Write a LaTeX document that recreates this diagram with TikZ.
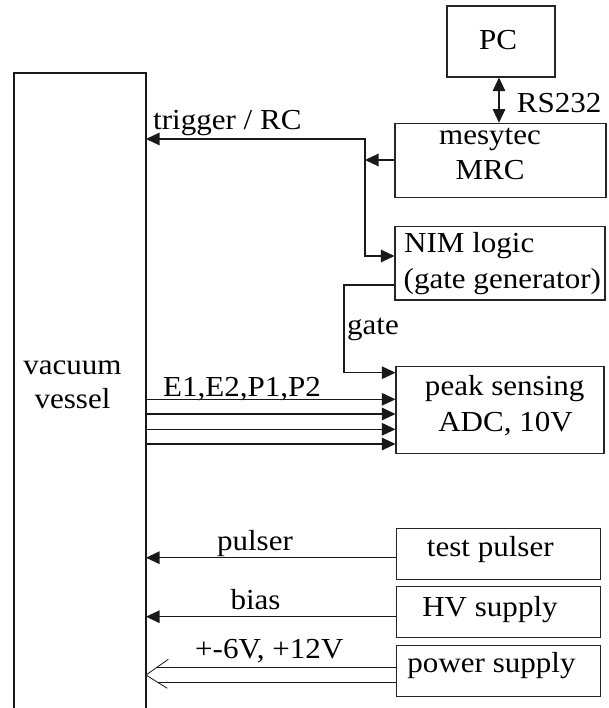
\documentclass[tikz,border=0pt]{standalone}
\usepackage{fontspec}
\setmainfont{Liberation Serif}
\usetikzlibrary{arrows.meta,calc}
\newcommand{\tx}[1]{\scalebox{1.07}[1]{#1}}
\begin{document}
\begin{tikzpicture}[x=1pt,y=-1pt,
  box/.style={draw=black!85, line width=1.1pt, inner sep=0pt, rectangle},
  lbl/.style={inner sep=0pt, font=\fontsize{29}{34}\selectfont},
  wire/.style={draw=black!90, line width=1.1pt},
  arr/.style={wire, -{Triangle[length=13.5pt,width=12.5pt]}},
  darr/.style={wire, {Triangle[length=13.5pt,width=12.5pt]}-{Triangle[length=13.5pt,width=12.5pt]}}]
\fill[white] (0,0) rectangle (608,708);
\useasboundingbox (0,0) rectangle (608,708);

% vacuum vessel (open at the bottom)
\draw[wire] (14,708) -- (14,73) -- (146,73) -- (146,708);
\coordinate (vR) at (146,73);
\node[lbl, anchor=base] (tvac) at (72.5,374) {\tx{vacuum}};
\node[lbl, anchor=base] (tves) at (72.5,408.3) {\tx{vessel}};

% boxes
\node[box, minimum width=108pt, minimum height=71pt] (pc) at (501,41.5) {};
\node[box, minimum width=211pt, minimum height=74.4pt] (mrc) at (500.5,160.5) {};
\node[box, minimum width=210pt, minimum height=73.3pt] (nim) at (500,263.3) {};
\node[box, minimum width=208pt, minimum height=87.3pt] (adc) at (500,409.7) {};
\node[box, minimum width=204.7pt, minimum height=51pt] (tp) at (498.4,553.8) {};
\node[box, minimum width=204.7pt, minimum height=51.3pt] (hv) at (498.4,611.7) {};
\node[box, minimum width=204.7pt, minimum height=51.7pt] (ps) at (498.4,670.9) {};

% box texts
\node[lbl, anchor=base] (tPC) at (498,50) {\tx{PC}};
\node[lbl, anchor=base] (tmes) at (490,145) {\tx{mesytec}};
\node[lbl, anchor=base] (tmrc) at (490,180) {\tx{MRC}};
\node[lbl, anchor=base west] (tnim1) at (404,252.7) {\tx{NIM logic}};
\node[lbl, anchor=base west] (tnim2) at (403.5,288) {\tx{(gate generator)}};
\node[lbl, anchor=base] (tadc1) at (504.7,395) {\tx{peak sensing}};
\node[lbl, anchor=base] (tadc2) at (505.5,431.7) {\tx{ADC, 10V}};
\node[lbl, anchor=base] (ttp) at (490.3,556) {\tx{test pulser}};
\node[lbl, anchor=base] (thv) at (490,616.7) {\tx{HV supply}};
\node[lbl, anchor=base] (tps) at (491.5,672) {\tx{power supply}};

% connector labels
\node[lbl, anchor=base west] (tRS) at (516.7,113) {\tx{RS232}};
\node[lbl, anchor=base west] (ttrig) at (153,130) {\tx{trigger / RC}};
\node[lbl, anchor=base west] (tgate) at (347,334) {\tx{gate}};
\node[lbl, anchor=base west] (tE) at (163,396) {\tx{E1,E2,P1,P2}};
\node[lbl, anchor=base] (tpul) at (255,550.7) {\tx{pulser}};
\node[lbl, anchor=base] (tbias) at (255.5,609) {\tx{bias}};
\node[lbl, anchor=base west] (tpow) at (195,658) {\tx{+-6V, +12V}};

% connectors
\coordinate (tj) at (365,139);
\draw[darr] (vR |- tj) -- (tj) -- (tj |- 0,256) -- (nim.west |- 0,256);
\draw[arr] (mrc.west |- 0,160) -- (tj |- 0,160);
\draw[darr] (pc.south -| 499,0) -- (mrc.north -| 499,0);
\coordinate (gj) at (344,285);
\draw[arr] (nim.west |- gj) -- (gj) -- (gj |- 0,372.7) -- (adc.west |- 0,372.7);
\foreach \yy in {399.3,414,429.3,444}
  \draw[arr] (vR |- 0,\yy) -- (adc.west |- 0,\yy);
\draw[arr] (tp.west |- 0,557.7) -- (vR |- 0,557.7);
\draw[arr] (hv.west |- 0,616.7) -- (vR |- 0,616.7);
% double line with open head
\draw[wire] (ps.west |- 0,667.3) -- (157,667.3);
\draw[wire] (ps.west |- 0,682.7) -- (158.3,682.7);
\draw[wire, line width=0.8pt] (168.3,659.3) -- (vR |- 0,675) -- (167.3,688.3);
\end{tikzpicture}
\end{document}
